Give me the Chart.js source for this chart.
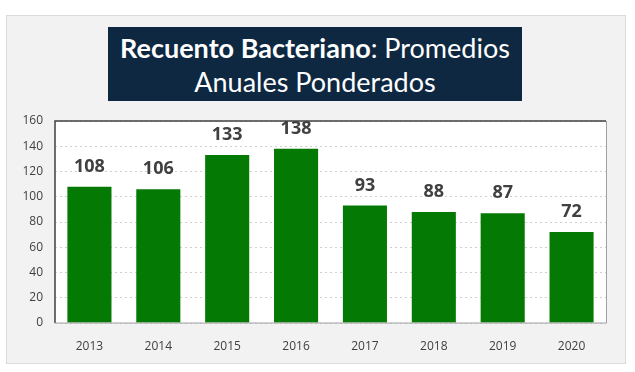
<!DOCTYPE html>
<html><head><meta charset="utf-8">
<script src="https://cdn.jsdelivr.net/npm/chart.js@4.4.1/dist/chart.umd.min.js"></script>
<style>
html,body{margin:0;padding:0;background:#fff;width:635px;height:372px;overflow:hidden;font-family:"Open Sans",sans-serif;}
#panel{position:absolute;left:6px;top:15px;width:620px;height:349px;background:#f2f2f2;border:1px solid #dcdcdc;box-sizing:border-box;}
#title{position:absolute;left:108px;top:27px;width:414px;height:74px;background:#0e2841;color:#fff;text-align:center;font-family:Lato,sans-serif;font-size:27px;line-height:34px;padding-top:4px;box-sizing:border-box;}
#title b{font-weight:bold;}
#wrap{position:absolute;left:0;top:0;width:635px;height:372px;}
</style></head><body>
<div id="panel"></div>
<div id="title"><b>Recuento Bacteriano</b>: Promedios<br>Anuales Ponderados</div>
<div id="wrap"><canvas id="c" width="635" height="372"></canvas></div>
<script>
const categories = ["2013","2014","2015","2016","2017","2018","2019","2020"];
const values = [108,106,133,138,93,88,87,72];
const yTicks = [0,20,40,60,80,100,120,140,160];

const plotBg = {
  id:'plotBg',
  beforeDraw(chart){
    const {ctx, chartArea:a} = chart;
    ctx.save(); ctx.fillStyle='#ffffff'; ctx.fillRect(a.left,a.top,a.right-a.left,a.bottom-a.top); ctx.restore();
  },
  afterDraw(chart){
    const {ctx, chartArea:a} = chart;
    ctx.save();
    ctx.lineWidth=1.5;
    ctx.strokeStyle='#404040';
    ctx.beginPath(); ctx.moveTo(a.left,a.bottom); ctx.lineTo(a.left,a.top); ctx.lineTo(a.right,a.top); ctx.stroke();
    ctx.strokeStyle='#a0a0a0'; ctx.lineWidth=1;
    ctx.beginPath(); ctx.moveTo(a.right+0.5,a.top); ctx.lineTo(a.right+0.5,a.bottom); ctx.lineTo(a.left,a.bottom); ctx.stroke();
    const meta = chart.getDatasetMeta(0);
    ctx.fillStyle='#404040'; ctx.font='bold 18px "Open Sans", sans-serif';
    ctx.textAlign='center'; ctx.textBaseline='middle';
    meta.data.forEach((b,i)=>{ ctx.fillText(String(values[i]), b.x, b.y-20); });
    ctx.restore();
  }
};

new Chart(document.getElementById('c'), {
  type:'bar',
  data:{labels:categories, datasets:[{data:values, backgroundColor:'#047a04', borderWidth:0, categoryPercentage:1, barPercentage:0.64}]},
  options:{
    responsive:false, animation:false, devicePixelRatio:1,
    layout:{padding:{left:0,right:29,top:121,bottom:0}},
    plugins:{legend:{display:false},tooltip:{enabled:false}},
    scales:{
      x:{grid:{display:false}, border:{display:false},
         ticks:{color:'#404040',font:{family:'"Open Sans", sans-serif',size:12},padding:8},
         afterFit(s){s.height=49;}},
      y:{min:0,max:160, afterBuildTicks(s){s.ticks=yTicks.map(v=>({value:v}));},
         grid:{color:'#cfcfcf', drawTicks:false},
         border:{display:false, dash:[2,3]},
         ticks:{color:'#404040',font:{family:'"Open Sans", sans-serif',size:12},padding:12},
         afterFit(s){s.width=55;}}
    }
  },
  plugins:[plotBg]
});
</script>
</body></html>
